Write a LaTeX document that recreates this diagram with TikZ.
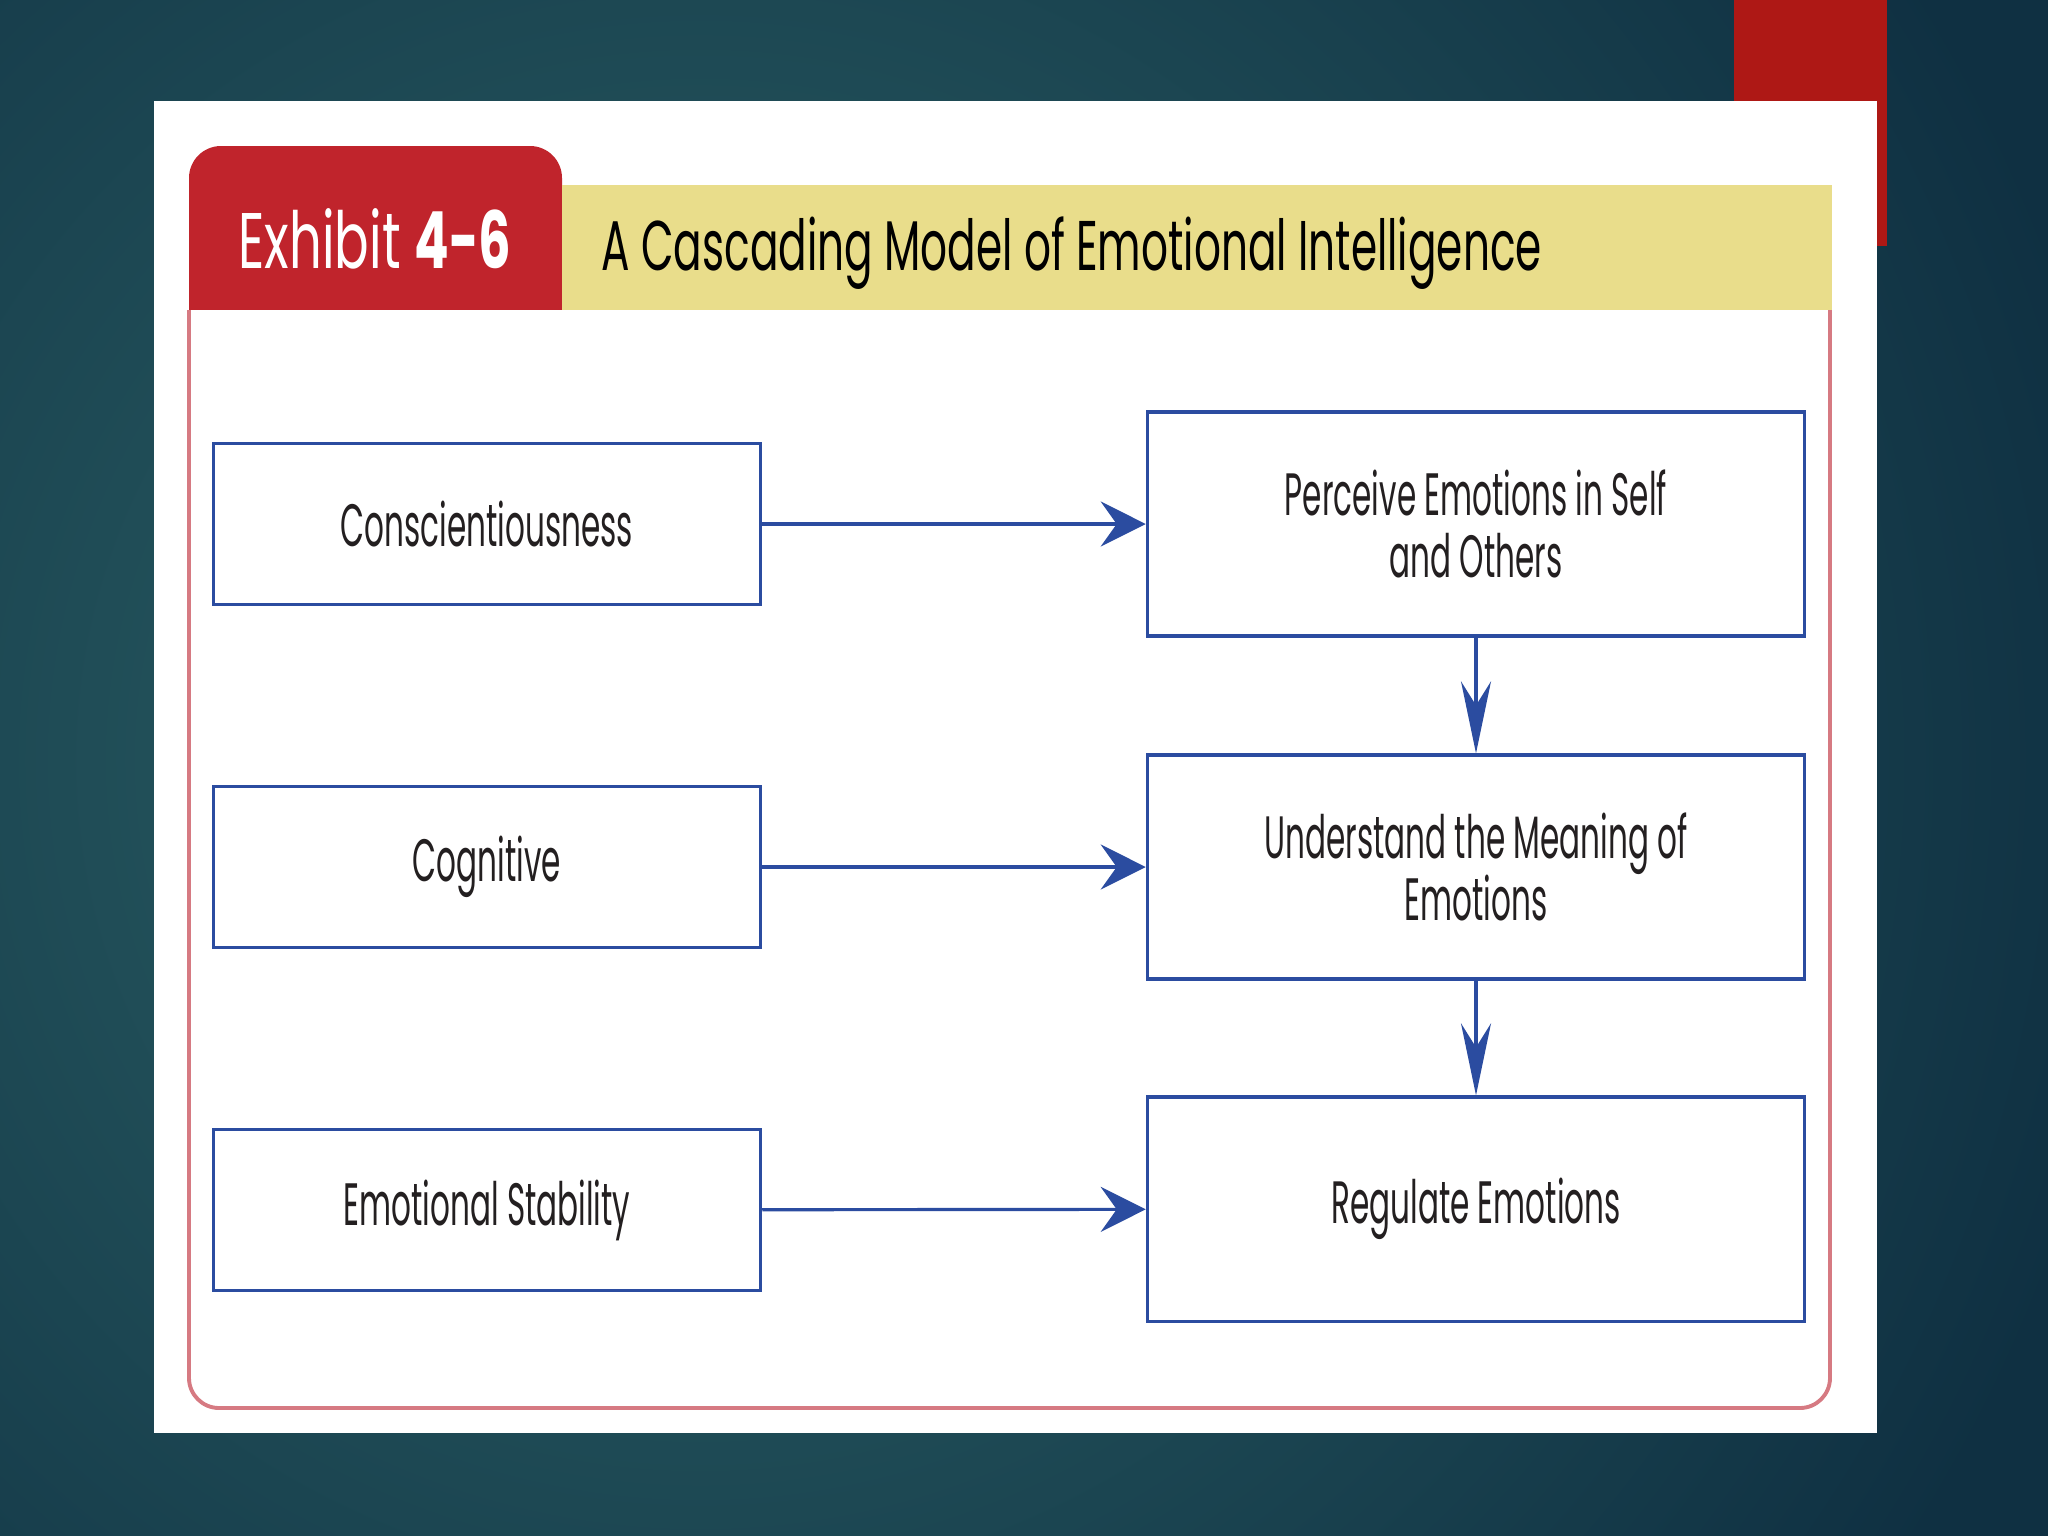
\documentclass[tikz,border=0pt]{standalone}
\usepackage{fontspec}
\setmainfont{Poppins}[FakeStretch=0.52]
\newfontfamily\titlefont{Poppins}[FakeStretch=0.65]
\newfontfamily\bandfont{Poppins}[FakeStretch=0.6]
\usetikzlibrary{arrows.meta}

\definecolor{bgdark}{RGB}{15,48,66}
\definecolor{bglight}{RGB}{44,98,102}
\definecolor{cornerred}{RGB}{174,24,21}
\definecolor{tabred}{RGB}{192,36,44}
\definecolor{bandyellow}{RGB}{233,221,139}
\definecolor{framered}{RGB}{214,122,130}
\definecolor{boxblue}{RGB}{43,76,160}
\definecolor{inkgray}{RGB}{35,31,32}

\begin{document}
\begin{tikzpicture}[x=0.01cm,y=-0.01cm]
    \tikzset{
      box/.style={draw=boxblue, line width=0.9pt, fill=white, text=inkgray,
        minimum width=5.47cm, minimum height=1.61cm, align=center,
        font=\fontsize{17}{17.6}\selectfont},
      wide/.style={box, minimum width=6.57cm, minimum height=2.24cm},
      edge/.style={-{Stealth[length=0.45cm,width=0.45cm,inset=0.16cm]},
        draw=boxblue, line width=0.9pt},
      downedge/.style={-{Stealth[length=0.72cm,width=0.3cm,inset=0.24cm]},
        draw=boxblue, line width=0.9pt}
    }
    \useasboundingbox (0,0) rectangle (2048,1536);
    % slide
    \begin{scope}
      \clip (0,0) rectangle (2048,1536);
      \fill[bgdark] (0,0) rectangle (2048,1536);
      \shade[inner color=bglight, outer color=bgdark] (700,760) circle (1450);
    \end{scope}
    \fill[cornerred] (1734,0) rectangle (1887,246);
    \fill[white] (154,101) rectangle (1877,1433);

    % heading
    \fill[tabred, rounded corners=0.32cm] (189,146) rectangle (562,300);
    \fill[tabred] (189,250) rectangle (562,310);
    \fill[bandyellow] (562,185) rectangle (1832,310);
    \draw[framered, line width=1.1pt, rounded corners=0.3cm]
      (189,310) -- (189,1408) -- (1830,1408) -- (1830,310);
    \node[anchor=base, text=white, inner sep=0, font=\titlefont\fontsize{22.4}{24}\selectfont]
      (exhibit) at (375,268) {Exhibit \textbf{4-6}};
    \node[anchor=base west, text=black, inner sep=0, font=\bandfont\fontsize{20}{22}\selectfont]
      (heading) at (601,270) {A Cascading Model of Emotional Intelligence};

    % vertices
    \node[box] (consc) at (487,524) {Conscientiousness};
    \node[box] (cogn) at (487,867) {Cognitive};
    \node[box] (stab) at (487,1210) {Emotional Stability};
    \node[wide] (perc) at (1476,524) {Perceive Emotions in Self\\and Others};
    \node[wide] (under) at (1476,867) {Understand the Meaning of\\Emotions};
    \node[wide] (regul) at (1476,1209) {Regulate Emotions};

    %edges
    \draw[edge] (consc) -- (perc);
    \draw[edge] (cogn) -- (under);
    \draw[edge] (stab) -- (regul);
    \draw[downedge] (perc) -- (under);
    \draw[downedge] (under) -- (regul);
\end{tikzpicture}
\end{document}
